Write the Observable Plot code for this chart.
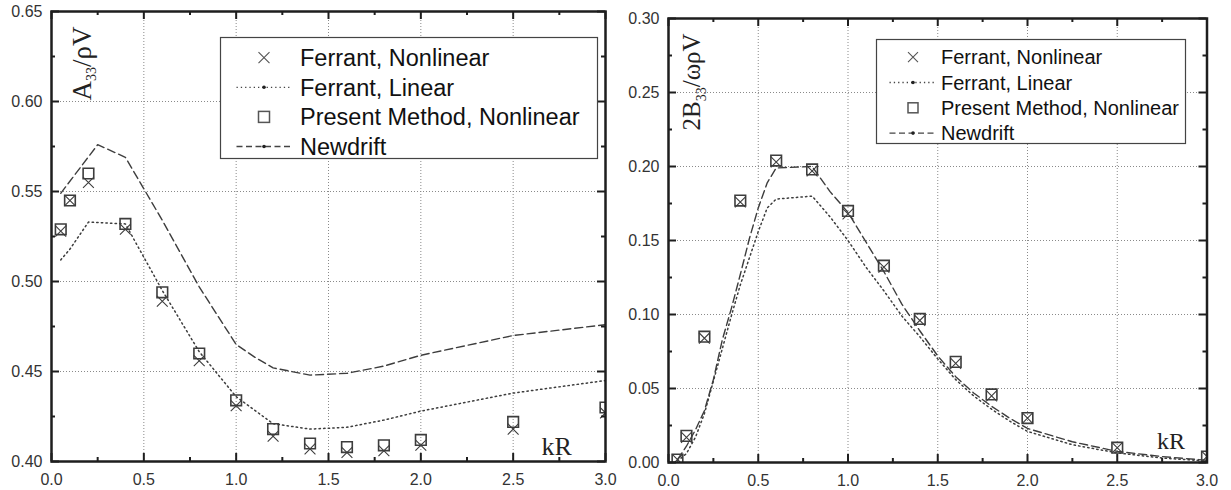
<!DOCTYPE html>
<html><head><meta charset="utf-8">
<script src="https://cdn.jsdelivr.net/npm/d3@7"></script>
<script src="https://cdn.jsdelivr.net/npm/@observablehq/plot@0.6"></script>
<style>
body{margin:0;background:#fff;}
#wrap{position:relative;width:1231px;height:490px;overflow:hidden;font-family:"Liberation Sans",Arial,sans-serif;}
.panel{position:absolute;top:0;}
.legend{position:absolute;}
</style></head><body>
<div id="wrap"><div id="left" class="panel" style="left:0"></div><div id="right" class="panel" style="left:615px"></div></div>
<script>
// ---------- data ----------
const kR = [0.05, 0.1, 0.2, 0.4, 0.6, 0.8, 1.0, 1.2, 1.4, 1.6, 1.8, 2.0, 2.5, 3.0];

// Left panel: A33 / rho V
const A33_ferrantNonlinear = [0.528, 0.545, 0.555, 0.529, 0.489, 0.456, 0.431, 0.414, 0.407, 0.405, 0.406, 0.409, 0.418, 0.427];
const A33_presentNonlinear = [0.529, 0.545, 0.560, 0.532, 0.494, 0.460, 0.434, 0.418, 0.410, 0.408, 0.409, 0.412, 0.422, 0.430];
const A33_linearKR = [0.05, 0.1, 0.2, 0.4, 0.6, 0.8, 1.0, 1.2, 1.4, 1.6, 1.8, 2.0, 2.5, 3.0];
const A33_ferrantLinear = [0.512, 0.518, 0.533, 0.532, 0.495, 0.461, 0.436, 0.421, 0.418, 0.419, 0.423, 0.428, 0.438, 0.445];
const A33_newdriftKR = [0.05, 0.25, 0.4, 0.6, 0.8, 1.0, 1.1, 1.2, 1.4, 1.6, 1.8, 2.0, 2.5, 3.0];
const A33_newdrift = [0.549, 0.576, 0.569, 0.534, 0.497, 0.465, 0.458, 0.452, 0.448, 0.449, 0.453, 0.459, 0.470, 0.476];

// Right panel: 2 B33 / omega rho V
const B33_ferrantNonlinear = [0.002, 0.017, 0.084, 0.176, 0.203, 0.197, 0.168, 0.132, 0.096, 0.067, 0.045, 0.030, 0.010, 0.004];
const B33_presentNonlinear = [0.002, 0.018, 0.085, 0.177, 0.204, 0.198, 0.170, 0.133, 0.097, 0.068, 0.046, 0.030, 0.010, 0.004];
const B33_curveKR = [0.05, 0.1, 0.15, 0.2, 0.25, 0.3, 0.35, 0.4, 0.45, 0.5, 0.55, 0.6, 0.8, 0.9, 1.0, 1.1, 1.2, 1.3, 1.4, 1.5, 1.6, 1.7, 1.8, 1.9, 2.0, 2.25, 2.5, 2.75, 3.0];
const B33_ferrantLinear = [0.001, 0.006, 0.017, 0.033, 0.055, 0.077, 0.099, 0.120, 0.138, 0.156, 0.172, 0.178, 0.180, 0.166, 0.150, 0.132, 0.116, 0.099, 0.085, 0.070, 0.056, 0.045, 0.036, 0.028, 0.021, 0.012, 0.0065, 0.003, 0.001];
const B33_newdrift = [0.002, 0.011, 0.022, 0.035, 0.056, 0.083, 0.104, 0.127, 0.151, 0.172, 0.189, 0.199, 0.200, 0.183, 0.169, 0.149, 0.129, 0.107, 0.089, 0.072, 0.058, 0.047, 0.038, 0.030, 0.023, 0.014, 0.0075, 0.004, 0.0015];

// ticks
const xMajor = [0, 0.5, 1.0, 1.5, 2.0, 2.5, 3.0];
const xMinor = [0.25, 0.75, 1.25, 1.75, 2.25, 2.75];
const yMajorA = [0.40, 0.45, 0.50, 0.55, 0.60, 0.65];
const yMinorA = [0.425, 0.475, 0.525, 0.575, 0.625];
const yMajorB = [0.00, 0.05, 0.10, 0.15, 0.20, 0.25, 0.30];
const yMinorB = [0.025, 0.075, 0.125, 0.175, 0.225, 0.275];

const legendLabels = ["Ferrant, Nonlinear", "Ferrant, Linear", "Present Method, Nonlinear", "Newdrift"];
const legendKinds = ["times", "dotted", "square", "dashed"];

// ---------- drawing ----------
const INK = "#3d3d3d";
const AXIS = "#1e1e1e";
const SERIF = "'Liberation Serif', 'Times New Roman', serif";
const SANS = "'Liberation Sans', Arial, sans-serif";

function pts(xs, ys) { return xs.map((x, i) => ({x, y: ys[i]})); }

function makePanel(cfg) {
  const {width, height, mt, mr, mb, ml} = cfg;
  const W = width - ml - mr, H = height - mt - mb;
  const tk = {stroke: AXIS, strokeWidth: 2};
  const svg = Plot.plot({
    width, height, marginTop: mt, marginRight: mr, marginBottom: mb, marginLeft: ml,
    x: {domain: [0, 3], axis: null},
    y: {domain: cfg.yDomain, axis: null},
    style: {background: "none", overflow: "visible", fontFamily: SANS},
    marks: [
      Plot.gridX(xMajor, {stroke: "#8a8a8a", strokeOpacity: 1, strokeWidth: 1, strokeDasharray: "1,2"}),
      Plot.gridY(cfg.yMajor, {stroke: "#8a8a8a", strokeOpacity: 1, strokeWidth: 1, strokeDasharray: "1,2"}),
      Plot.line(pts(cfg.linKR, cfg.lin), {x: "x", y: "y", stroke: INK, strokeWidth: 1.5, strokeDasharray: "1.4,3.2", clip: true}),
      Plot.line(pts(cfg.ndKR, cfg.nd), {x: "x", y: "y", stroke: INK, strokeWidth: 1.4, strokeDasharray: "8,4", clip: true}),
      Plot.dot(pts(kR, cfg.present), {x: "x", y: "y", symbol: "square", r: 6, stroke: INK, strokeWidth: 1.6, fill: "none", clip: true}),
      Plot.dot(pts(kR, cfg.ferrant), {x: "x", y: "y", symbol: d3.symbolTimes, r: 5, stroke: INK, strokeWidth: 1.1, fill: "none", clip: true}),
      Plot.frame({stroke: AXIS, strokeWidth: 2.5}),
      Plot.ruleX(xMajor, {x: d => d, insetTop: H - 8, ...tk}),
      Plot.ruleX(xMajor, {x: d => d, insetBottom: H - 8, ...tk}),
      Plot.ruleX(xMinor, {x: d => d, insetTop: H - 4, ...tk}),
      Plot.ruleX(xMinor, {x: d => d, insetBottom: H - 4, ...tk}),
      Plot.ruleY(cfg.yMajor, {y: d => d, insetRight: W - 8, ...tk}),
      Plot.ruleY(cfg.yMajor, {y: d => d, insetLeft: W - 8, ...tk}),
      Plot.ruleY(cfg.yMinor, {y: d => d, insetRight: W - 4, ...tk}),
      Plot.ruleY(cfg.yMinor, {y: d => d, insetLeft: W - 4, ...tk}),
      Plot.axisX(xMajor, {tickSize: 0, tickPadding: 12, tickFormat: d => d.toFixed(1), fontSize: 16, color: "#333", label: null}),
      Plot.axisY(cfg.yMajor, {tickSize: 0, tickPadding: 9, tickFormat: d => d.toFixed(2), fontSize: 16, color: "#333", label: null}),
      Plot.text([cfg.ylabel], {text: d => d, frameAnchor: "top-left", dx: cfg.ylDx, dy: cfg.ylDy, rotate: -90,
        textAnchor: "start", lineAnchor: "bottom", fontSize: cfg.ylSize, fontFamily: SERIF, fill: "#222"}),
      Plot.text(["kR"], {text: d => d, frameAnchor: "bottom-right", dx: cfg.kDx, dy: cfg.kDy,
        textAnchor: "start", lineAnchor: "bottom", fontSize: cfg.kSize, fontFamily: SERIF, fill: "#222"})
    ]
  });
  // subscript in the y label
  d3.select(svg).selectAll("text").filter(function() { return this.textContent === cfg.ylabel; }).each(function() {
    const t = d3.select(this);
    t.text(null);
    cfg.ylParts.forEach(p => {
      const s = t.append("tspan").text(p.t);
      if (p.sub) s.attr("font-size", 14).attr("dy", cfg.subDy);
      if (p.up) s.attr("dy", -cfg.subDy);
    });
  });
  document.getElementById(cfg.el).appendChild(svg);
}

makePanel({
  el: "left", width: 615, height: 490, mt: 11, mr: 10, mb: 29, ml: 51,
  yDomain: [0.40, 0.65], yMajor: yMajorA, yMinor: yMinorA,
  ferrant: A33_ferrantNonlinear, present: A33_presentNonlinear,
  linKR: A33_linearKR, lin: A33_ferrantLinear, ndKR: A33_newdriftKR, nd: A33_newdrift,
  ylabel: "A33/ρV", ylParts: [{t: "A"}, {t: "33", sub: true}, {t: "/ρV", up: true}],
  ylDx: 39, ylDy: 89, ylSize: 27, subDy: 5,
  kDx: -64, kDy: -7, kSize: 26
});

makePanel({
  el: "right", width: 616, height: 490, mt: 18, mr: 24.5, mb: 28, ml: 53,
  yDomain: [0, 0.30], yMajor: yMajorB, yMinor: yMinorB,
  ferrant: B33_ferrantNonlinear, present: B33_presentNonlinear,
  linKR: B33_curveKR, lin: B33_ferrantLinear, ndKR: B33_curveKR, nd: B33_newdrift,
  ylabel: "2B33/ωρV", ylParts: [{t: "2B"}, {t: "33", sub: true}, {t: "/ωρV", up: true}],
  ylDx: 31, ylDy: 112, ylSize: 25, subDy: 6,
  kDx: -50, kDy: -14, kSize: 24
});

// ---------- legends ----------
function buildLegend(cfg) {
  const div = d3.select("#wrap").append("div").attr("class", "legend")
    .style("left", cfg.left + "px").style("top", cfg.top + "px");
  const svg = div.append("svg").attr("width", cfg.w).attr("height", cfg.h).style("display", "block").style("overflow", "visible");
  svg.append("rect").attr("x", 0.5).attr("y", 0.5).attr("width", cfg.w - 1).attr("height", cfg.h - 1)
    .attr("fill", "#fff").attr("stroke", "#444").attr("stroke-width", 1.2);
  legendLabels.forEach((label, i) => {
    const cy = cfg.y0 + i * cfg.dy;
    const sx = cfg.sx, s = cfg.sym;
    const kind = legendKinds[i];
    if (kind === "times") {
      svg.append("path").attr("d", `M${sx - s},${cy - s}L${sx + s},${cy + s}M${sx - s},${cy + s}L${sx + s},${cy - s}`)
        .attr("stroke", "#555").attr("stroke-width", 1.1).attr("fill", "none");
    } else if (kind === "square") {
      svg.append("rect").attr("x", sx - s).attr("y", cy - s).attr("width", 2 * s).attr("height", 2 * s)
        .attr("stroke", "#555").attr("stroke-width", 1.5).attr("fill", "none");
    } else {
      svg.append("line").attr("x1", cfg.l1).attr("x2", cfg.l2).attr("y1", cy).attr("y2", cy)
        .attr("stroke", "#444").attr("stroke-width", 1.3)
        .attr("stroke-dasharray", kind === "dotted" ? "1.3,3" : "6,3.5");
      svg.append("circle").attr("cx", sx).attr("cy", cy).attr("r", 1.8).attr("fill", "#222");
    }
    svg.append("text").attr("x", cfg.tx).attr("y", cy + 0.36 * cfg.fs).attr("font-size", cfg.fs)
      .attr("font-family", SANS).attr("fill", "#111").text(label);
  });
}

buildLegend({left: 220, top: 37, w: 378, h: 122, y0: 20.7, dy: 29.6, sx: 44, sym: 5.5, l1: 16.5, l2: 71.5, tx: 80, fs: 23.5});
buildLegend({left: 876, top: 39, w: 310, h: 105, y0: 18.2, dy: 25.3, sx: 37, sym: 5, l1: 13.5, l2: 60.5, tx: 65, fs: 20});
</script>
</body></html>
